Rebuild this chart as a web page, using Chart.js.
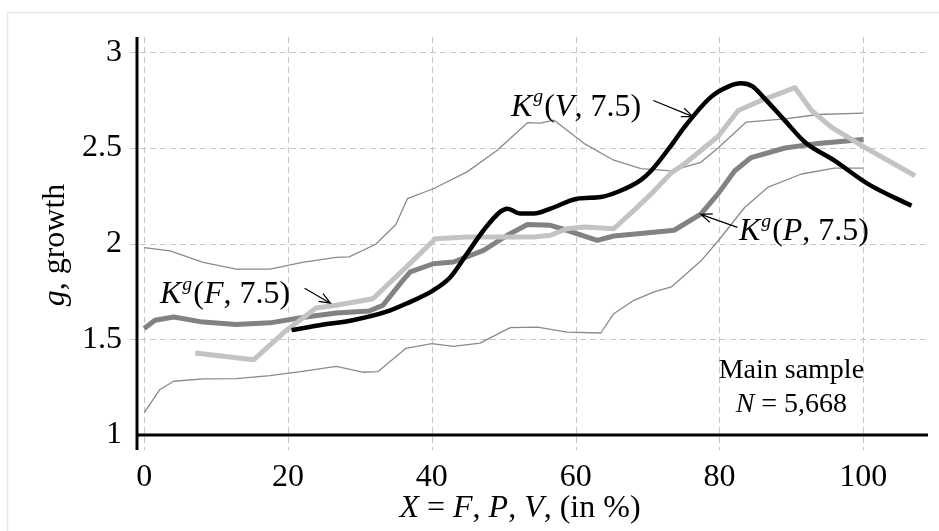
<!DOCTYPE html>
<html>
<head>
<meta charset="utf-8">
<script src="https://cdn.jsdelivr.net/npm/chart.js@4.4.1/dist/chart.umd.min.js"></script>
<style>
body { margin: 0; background: #fff; }
#wrap { width: 939px; height: 531px; position: relative; }
</style>
</head>
<body>
<div id="wrap"><canvas id="growthChart"></canvas></div>
<script>
const xTicks = [0, 20, 40, 60, 80, 100]
const yTicks = [1, 1.5, 2, 2.5, 3]

// K^g(V, 7.5), black
const xV = [20.5, 24.4, 29, 33.6, 36.4, 40.2, 42.6, 44.9, 47.2, 49.5, 50.5, 52.3, 54.2, 56.5, 60.2, 63.5, 65.8, 69, 70.5, 73.3, 75.1, 78.8, 81.3, 83, 84.6, 86, 89.1, 91.9, 96, 100.7, 106.7]
const gV = [1.548, 1.574, 1.6, 1.643, 1.686, 1.756, 1.826, 1.948, 2.07, 2.166, 2.183, 2.157, 2.157, 2.183, 2.235, 2.244, 2.27, 2.331, 2.381, 2.514, 2.608, 2.766, 2.822, 2.838, 2.822, 2.77, 2.643, 2.53, 2.434, 2.311, 2.198]

// K^g(F, 7.5), light gray
const xF = [7.1, 15.2, 19.8, 23.9, 26.7, 31.8, 36.4, 40.5, 44.9, 49.5, 54.2, 56.5, 58.8, 61.2, 65.3, 68.1, 70.5, 73.3, 75.1, 79.8, 82.6, 85.8, 90.5, 92.8, 95.6, 100.2, 107.2]
const gF = [1.428, 1.393, 1.548, 1.664, 1.678, 1.712, 1.876, 2.026, 2.035, 2.035, 2.035, 2.044, 2.078, 2.087, 2.078, 2.174, 2.26, 2.37, 2.416, 2.56, 2.696, 2.748, 2.815, 2.696, 2.608, 2.503, 2.355]

// K^g(P, 7.5), dark gray
const xP = [0, 1.5, 4.1, 8.2, 12.8, 17.5, 22, 26.7, 31.3, 33.2, 35.8, 37, 40.2, 43, 47.2, 50.5, 53.3, 56.5, 58.8, 63, 65.3, 70.5, 73.7, 77.4, 79.8, 82.1, 84.4, 89.1, 93.7, 100]
const gP = [1.557, 1.6, 1.617, 1.59, 1.578, 1.586, 1.614, 1.638, 1.648, 1.678, 1.8, 1.852, 1.895, 1.904, 1.965, 2.044, 2.1, 2.096, 2.07, 2.017, 2.04, 2.058, 2.07, 2.154, 2.26, 2.38, 2.45, 2.5, 2.524, 2.544]

// band around P
const xUpper = [0, 3.6, 8.2, 12.8, 17.5, 22, 26.7, 28.5, 32.2, 35, 36.6, 40.2, 44.9, 49.1, 53.3, 55.1, 57, 61.2, 65.3, 69.1, 73.3, 77.4, 79.8, 83.7, 89.1, 93.7, 100]
const gUpper = [1.979, 1.962, 1.902, 1.867, 1.867, 1.902, 1.928, 1.931, 1.997, 2.1, 2.235, 2.287, 2.375, 2.488, 2.632, 2.63, 2.645, 2.523, 2.436, 2.392, 2.38, 2.425, 2.5, 2.635, 2.652, 2.675, 2.682]
const xLower = [0, 2.2, 4.1, 8.2, 12.8, 17.5, 22, 26.7, 30.4, 32.5, 36.4, 40, 43, 46.7, 50.9, 54.7, 58.8, 63.5, 65.3, 68.1, 70.9, 73.3, 77.4, 79.8, 83.5, 86.7, 91.4, 96, 100]
const gLower = [1.117, 1.238, 1.281, 1.293, 1.295, 1.31, 1.333, 1.359, 1.328, 1.331, 1.453, 1.477, 1.463, 1.48, 1.561, 1.564, 1.538, 1.533, 1.634, 1.704, 1.748, 1.774, 1.909, 2.014, 2.189, 2.294, 2.364, 2.395, 2.395]

const toPoints = (xs, ys) => xs.map((x, i) => ({ x: x, y: ys[i] }))

const FONT = '"Liberation Serif", "Times New Roman", serif'
Chart.defaults.font.family = FONT

// labels with arrows, anchored in data units
const labels = [
    { runs: [['K', 1], ['g', 1, 1], ['(', 0], ['F', 1], [', 7.5)', 0]], at: [2.2, 1.689], from: [22.3, 1.767], to: [25.9, 1.689] },
    { runs: [['K', 1], ['g', 1, 1], ['(', 0], ['V', 1], [', 7.5)', 0]], at: [51.0, 2.669], from: [70.8, 2.748], to: [76.3, 2.664] },
    { runs: [['K', 1], ['g', 1, 1], ['(', 0], ['P', 1], [', 7.5)', 0]], at: [82.7, 2.017], from: [82.5, 2.085], to: [77.4, 2.153] }
]

function richWidth(ctx, runs, size) {
    let w = 0
    runs.forEach(r => {
        const s = r[2] ? size * 0.62 : size
        ctx.font = (r[1] ? 'italic ' : '') + s + 'px ' + FONT
        w += ctx.measureText(r[0]).width
    })
    return w
}

function drawRich(ctx, runs, x, y, size) {
    let cx = x
    ctx.textBaseline = 'alphabetic'
    ctx.textAlign = 'left'
    runs.forEach(r => {
        const s = r[2] ? size * 0.62 : size
        ctx.font = (r[1] ? 'italic ' : '') + s + 'px ' + FONT
        ctx.fillText(r[0], cx + (r[2] ? 1 : 0), r[2] ? y - size * 0.42 : y)
        cx += ctx.measureText(r[0]).width + (r[2] ? 2 : 0)
    })
}

function arrow(ctx, x1, y1, x2, y2) {
    const a = Math.atan2(y2 - y1, x2 - x1)
    const h = 12
    ctx.beginPath()
    ctx.moveTo(x1, y1)
    ctx.lineTo(x2, y2)
    ctx.moveTo(x2 - h * Math.cos(a - 0.38), y2 - h * Math.sin(a - 0.38))
    ctx.lineTo(x2, y2)
    ctx.lineTo(x2 - h * Math.cos(a + 0.38), y2 - h * Math.sin(a + 0.38))
    ctx.stroke()
}

const decorPlugin = {
    id: 'decor',
    beforeDraw(chart) {
        const ctx = chart.ctx
        ctx.save()
        ctx.strokeStyle = '#e3eaea'
        ctx.lineWidth = 1.5
        ctx.strokeRect(7.5, 12.5, 2000, 2000)
        ctx.restore()
    },
    beforeDatasetsDraw(chart) {
        // dashed grid, drawn here so the dash is certain
        const ctx = chart.ctx
        const area = chart.chartArea
        const xs = chart.scales.x
        const ys = chart.scales.y
        ctx.save()
        ctx.strokeStyle = '#c6c6c6'
        ctx.lineWidth = 1
        ctx.setLineDash([6, 4])
        ctx.beginPath()
        xs.ticks.forEach(t => {
            const px = Math.round(xs.getPixelForValue(t.value)) + 0.5
            ctx.moveTo(px, area.top)
            ctx.lineTo(px, area.bottom + 15)
        })
        ys.ticks.forEach(t => {
            if (t.value === ys.min) return
            const py = Math.round(ys.getPixelForValue(t.value)) + 0.5
            ctx.moveTo(area.left - 7, py)
            ctx.lineTo(area.right, py)
        })
        ctx.stroke()
        ctx.restore()
    },
    afterDraw(chart) {
        const ctx = chart.ctx
        const area = chart.chartArea
        const xs = chart.scales.x
        const ys = chart.scales.y
        ctx.save()
        // axes
        ctx.strokeStyle = '#000'
        ctx.lineWidth = 3
        ctx.beginPath()
        ctx.moveTo(area.left, area.top)
        ctx.lineTo(area.left, area.bottom + 15)
        ctx.moveTo(area.left - 1.5, area.bottom)
        ctx.lineTo(area.right, area.bottom)
        ctx.stroke()

        ctx.fillStyle = '#000'
        ctx.lineWidth = 1.2
        labels.forEach(l => {
            drawRich(ctx, l.runs, xs.getPixelForValue(l.at[0]), ys.getPixelForValue(l.at[1]), 32)
            arrow(ctx, xs.getPixelForValue(l.from[0]), ys.getPixelForValue(l.from[1]),
                xs.getPixelForValue(l.to[0]), ys.getPixelForValue(l.to[1]))
        })

        // sample note
        const noteX = xs.getPixelForValue(90)
        ctx.font = '28px ' + FONT
        ctx.textAlign = 'center'
        ctx.fillText('Main sample', noteX, ys.getPixelForValue(1.297))
        const nRuns = [['N', 1], [' = 5,668', 0]]
        const nw = richWidth(ctx, nRuns, 28)
        drawRich(ctx, nRuns, noteX - nw / 2, ys.getPixelForValue(1.12), 28)

        // axis titles
        const xRuns = [['X', 1], [' = ', 0], ['F', 1], [', ', 0], ['P', 1], [', ', 0], ['V', 1], [', (in %)', 0]]
        const xw = richWidth(ctx, xRuns, 32)
        drawRich(ctx, xRuns, 520 - xw / 2, 517, 32)

        const yRuns = [['g', 1], [', growth', 0]]
        const yw = richWidth(ctx, yRuns, 32)
        ctx.translate(64, (area.top + area.bottom) / 2 + 9)
        ctx.rotate(-Math.PI / 2)
        drawRich(ctx, yRuns, -yw / 2, 0, 32)
        ctx.restore()
    }
}

const growthctx = document.getElementById('growthChart').getContext('2d')
const growthChart = new Chart(growthctx, {
    type: 'line',
    data: {
        datasets: [{
            label: 'Kg(V, 7.5)',
            data: toPoints(xV, gV),
            borderColor: '#000000',
            borderWidth: 4.5,
            cubicInterpolationMode: 'monotone'
        }, {
            label: 'Kg(F, 7.5)',
            data: toPoints(xF, gF),
            borderColor: '#c3c3c3',
            borderWidth: 5
        }, {
            label: 'Kg(P, 7.5)',
            data: toPoints(xP, gP),
            borderColor: '#828282',
            borderWidth: 5
        }, {
            label: 'upper',
            data: toPoints(xUpper, gUpper),
            borderColor: '#8a8a8a',
            borderWidth: 1.3
        }, {
            label: 'lower',
            data: toPoints(xLower, gLower),
            borderColor: '#8a8a8a',
            borderWidth: 1.3
        }]
    },
    options: {
        responsive: true,
        maintainAspectRatio: false,
        animation: false,
        elements: {
            point: { radius: 0 },
            line: { tension: 0, borderJoinStyle: 'round', fill: false }
        },
        layout: {
            padding: { top: 37, right: 11, left: 0, bottom: 0 }
        },
        plugins: {
            legend: { display: false },
            tooltip: { enabled: false }
        },
        scales: {
            x: {
                type: 'linear',
                min: -1,
                max: 109,
                afterBuildTicks: scale => { scale.ticks = xTicks.map(v => ({ value: v })) },
                afterFit: scale => { scale.height = 96 },
                grid: { display: false, tickLength: 15 },
                border: { display: false },
                ticks: {
                    color: '#000',
                    padding: 8,
                    maxRotation: 0,
                    autoSkip: false,
                    font: { size: 32 },
                    callback: v => String(v)
                }
            },
            y: {
                min: 1,
                max: 3.08,
                afterBuildTicks: scale => { scale.ticks = yTicks.map(v => ({ value: v })) },
                afterFit: scale => { scale.width = 137 },
                grid: { display: false, tickLength: 8 },
                border: { display: false },
                ticks: {
                    color: '#000',
                    padding: 7,
                    font: { size: 32 },
                    callback: v => String(v)
                }
            }
        }
    },
    plugins: [decorPlugin]
})
</script>
</body>
</html>
